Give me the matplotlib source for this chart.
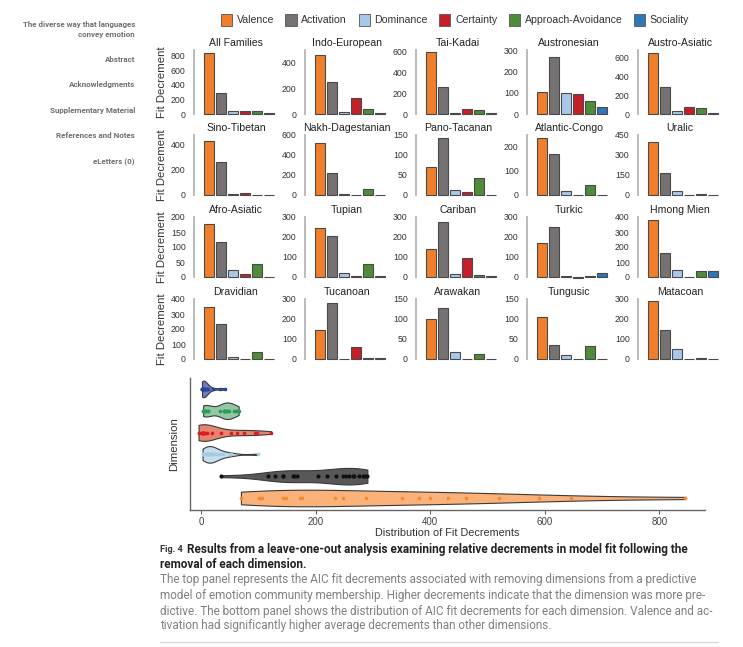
import numpy as np
import matplotlib
matplotlib.use("Agg")
import matplotlib.pyplot as plt
from matplotlib.patches import Patch
from matplotlib.lines import Line2D

W, H = 743, 647

families = ["All Families", "Indo-European", "Tai-Kadai", "Austronesian", "Austro-Asiatic",
            "Sino-Tibetan", "Nakh-Dagestanian", "Pano-Tacanan", "Atlantic-Congo", "Uralic",
            "Afro-Asiatic", "Tupian", "Cariban", "Turkic", "Hmong Mien",
            "Dravidian", "Tucanoan", "Arawakan", "Tungusic", "Matacoan"]
dimensions = ["Valence", "Activation", "Dominance", "Certainty", "Approach-Avoidance", "Sociality"]

valence    = [845, 462, 590, 102, 646, 430, 520, 69, 233, 400, 176, 247, 142, 172, 380, 350, 147, 100, 106, 288]
activation = [290, 248, 257, 266, 285, 265, 220, 143, 167, 162, 116, 204, 275, 252, 160, 235, 282, 128, 34, 143]
dominance  = [38, 15, 8, 98, 32, 11, 11, 12, 18, 27, 22, 20, 16, 3, 50, 11, 2, 18, 9, 52]
certainty  = [35, 122, 52, 93, 75, 19, -5, 7, 2, 3, 10, 3, 97, -4, 2, 3, 62, 1, 1, 2]
approach   = [48, 42, 40, 62, 60, 3, 57, 42, 40, 7, 45, 65, 11, 6, 42, 45, 3, 12, 33, 7]
sociality  = [10, 8, 8, 33, 12, 2, 4, 1, 2, 3, 1, 3, 6, 20, 42, 3, 3, 1, 1, 2]

y_max = [880, 500, 610, 300, 680, 480, 600, 150, 245, 450,
         200, 300, 300, 300, 400, 400, 300, 150, 150, 300]
y_step = [200, 200, 200, 100, 200, 200, 200, 50, 100, 150,
          50, 100, 100, 100, 100, 100, 100, 50, 50, 100]

violin_ticks = [0, 200, 400, 600, 800]

bar_colors = ["#F07F2B", "#767271", "#A9C7E9", "#C41F2B", "#4E8C3A", "#2D76B9"]
vio_fill = ["#FAB27A", "#5A5857", "#C8DEEB", "#E8836D", "#93C6A2", "#7579BF"]
vio_pts = ["#F5892F", "#111111", "#A4CBE2", "#D81E25", "#2E9B5A", "#23479A"]

series = [valence, activation, dominance, certainty, approach, sociality]

plt.rcParams["font.family"] = ["Liberation Sans", "DejaVu Sans"]

fig = plt.figure(figsize=(W / 100, H / 100), dpi=100)


def fx(x):
    return x / W


def fy(y):
    return 1 - y / H


# ---------------- bar panels ----------------
col_x = [194 + 111 * c for c in range(5)]
row_bottom = [114, 195, 277, 359]
row_height = [64, 60, 60, 60]
ax_w = 84
for i, fam in enumerate(families):
    r, c = divmod(i, 5)
    x0 = col_x[c]
    yb = row_bottom[r]
    h = row_height[r]
    ax = fig.add_axes([fx(x0), fy(yb), ax_w / W, h / H])
    vals = [s[i] for s in series]
    xs = np.arange(len(dimensions))
    bars = ax.bar(xs, vals, width=0.83, color=bar_colors, edgecolor="#4a4a4a", linewidth=0.8, zorder=2)
    for b in bars:
        b.set_clip_on(False)
    ax.set_xlim(-1.25, 5.75)
    ax.set_ylim(0, y_max[i])
    ticks = np.arange(0, y_max[i] + 1, y_step[i])
    ax.set_yticks(ticks)
    ax.set_yticklabels([str(int(t)) for t in ticks])
    ax.set_xticks([])
    for s in ["top", "right", "bottom"]:
        ax.spines[s].set_visible(False)
    ax.spines["left"].set_color("#b5b5b5")
    ax.spines["left"].set_linewidth(1.3)
    ax.tick_params(axis="y", length=0, pad=6, labelsize=6.3, labelcolor="#333333")
    ax.set_title(fam, fontsize=7.6, color="#222222", pad=3)
    ax.patch.set_alpha(0)
    if c == 0:
        ax.set_ylabel("Fit Decrement", fontsize=8.2, color="#333333", labelpad=3)

# ---------------- legend ----------------
handles = [Patch(facecolor=bar_colors[k], edgecolor="#555555", linewidth=0.6, label=dimensions[k])
           for k in range(len(dimensions))]
leg = fig.legend(handles=handles, loc="center", bbox_to_anchor=(fx(455), fy(20)), ncol=6,
                 frameon=False, fontsize=7.6, handlelength=1.05, handleheight=1.5,
                 handletextpad=0.45, columnspacing=1.1)
for t in leg.get_texts():
    t.set_color("#333333")

# ---------------- violin panel ----------------
axv = fig.add_axes([fx(190), fy(510), (705 - 190) / W, (510 - 378) / H])
for k, (vals, name) in enumerate(zip(series, dimensions)):
    data = np.asarray(vals, float)
    n = len(data)
    bw = data.std(ddof=1) * n ** (-1 / 5)
    grid = np.linspace(data.min(), data.max(), 300)
    z = (grid[:, None] - data[None, :]) / bw
    dens = np.exp(-0.5 * z ** 2).sum(1)
    dens = dens / dens.max() * 0.38
    pos = k
    axv.fill_between(grid, pos - dens, pos + dens, facecolor=vio_fill[k], edgecolor="#3a3a3a",
                     linewidth=0.8, zorder=2)
    axv.scatter(data, np.full(n, pos), s=7 if k != 1 else 9, color=vio_pts[k], zorder=3,
                linewidths=0)
axv.set_ylim(-0.55, 5.5)
axv.set_xlim(-20, 880)
axv.set_yticks([])
axv.set_xticks(violin_ticks)
axv.set_xticklabels([str(t) for t in violin_ticks])
for s in ["top", "right"]:
    axv.spines[s].set_visible(False)
for s in ["left", "bottom"]:
    axv.spines[s].set_color("#666666")
    axv.spines[s].set_linewidth(1.0)
axv.tick_params(axis="x", length=3, color="#666666", labelsize=7, labelcolor="#444444", pad=2)
axv.set_xlabel("Distribution of Fit Decrements", fontsize=7.8, color="#333333", labelpad=1)
axv.set_ylabel("Dimension", fontsize=8.2, color="#333333", labelpad=8)

# ---------------- sidebar ----------------
side = [("The diverse way that languages", 25), ("convey emotion", 34), ("Abstract", 59),
        ("Acknowledgments", 84), ("Supplementary Material", 110), ("References and Notes", 136),
        ("eLetters (0)", 162)]
for txt, y in side:
    fig.text(fx(135), fy(y), txt, ha="right", va="center", fontsize=5.8, fontweight="bold",
             color="#707070", family=["Roboto", "DejaVu Sans"])

# ---------------- caption ----------------
renderer = fig.canvas.get_renderer()


def fit(t, target_px):
    bb = t.get_window_extent(renderer)
    t.set_fontsize(t.get_fontsize() * target_px / bb.width)


f4 = fig.text(fx(160), fy(549), "Fig. 4", ha="left", va="center", fontsize=6.6, fontweight="bold",
              color="#333333", family=["Roboto", "DejaVu Sans"])
bb = f4.get_window_extent(renderer)
start = 160 + bb.width + 4
t1 = fig.text(fx(start), fy(549), "Results from a leave-one-out analysis examining relative decrements in model fit following the",
              ha="left", va="center", fontsize=8.5, fontweight="bold", color="#222222",
              family=["Roboto", "DejaVu Sans"])
fit(t1, 688 - start)
fs_title = t1.get_fontsize()
fig.text(fx(160), fy(564), "removal of each dimension.", ha="left", va="center", fontsize=fs_title,
         fontweight="bold", color="#222222", family=["Roboto", "DejaVu Sans"])

body = ["The top panel represents the AIC fit decrements associated with removing dimensions from a predictive",
        "model of emotion community membership. Higher decrements indicate that the dimension was more pre-",
        "dictive. The bottom panel shows the distribution of AIC fit decrements for each dimension. Valence and ac-",
        "tivation had significantly higher average decrements than other dimensions."]
body_y = [580, 596, 611, 625]
tb = []
for txt, y in zip(body, body_y):
    tb.append(fig.text(fx(160), fy(y), txt, ha="left", va="center", fontsize=8.5, color="#808080",
                       family=["Roboto", "DejaVu Sans"]))
fit(tb[2], 713 - 160)
for t in tb:
    t.set_fontsize(tb[2].get_fontsize())

fig.add_artist(Line2D([fx(160), fx(718)], [fy(642), fy(642)], color="#d8d8d8", linewidth=1.0,
                      transform=fig.transFigure))

fig.savefig("out.png", dpi=100, facecolor="white")
